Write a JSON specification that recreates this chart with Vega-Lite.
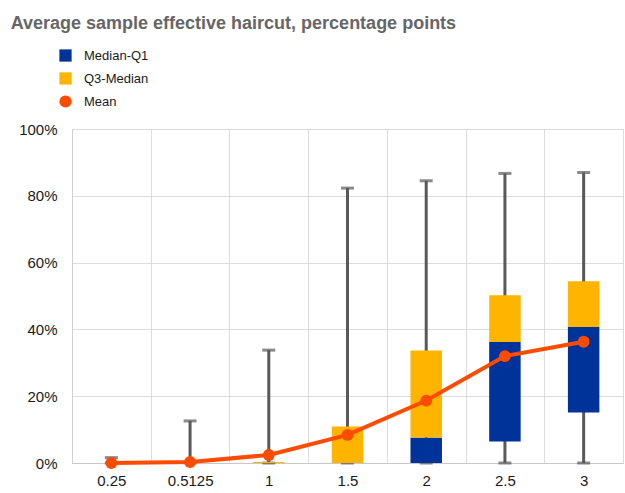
{
  "$schema": "https://vega.github.io/schema/vega-lite/v6.json",
  "width": 551,
  "height": 334,
  "autosize": {"type": "none"},
  "padding": {"left": 72, "top": 129, "right": 2, "bottom": 30},
  "background": "white",
  "title": {
    "text": "Average sample effective haircut, percentage points",
    "anchor": "start",
    "frame": "bounds",
    "font": "Liberation Sans",
    "fontSize": 18,
    "fontWeight": "bold",
    "color": "#666666",
    "dx": -8,
    "dy": -12
  },
  "config": {
    "view": {"stroke": "#d9d9d9", "strokeWidth": 1}
  },
  "datasets": {
    "stats": [
      {"cat": "0.25", "lo": 0, "hi": 0.016},
      {"cat": "0.5125", "lo": 0, "hi": 0.126},
      {"cat": "1", "lo": 0, "hi": 0.338},
      {"cat": "1.5", "lo": 0, "hi": 0.823},
      {"cat": "2", "lo": 0, "hi": 0.845},
      {"cat": "2.5", "lo": 0, "hi": 0.867},
      {"cat": "3", "lo": 0, "hi": 0.870}
    ],
    "boxes": [
      {"cat": "0.25", "series": "Median-Q1", "from": 0, "to": 0},
      {"cat": "0.5125", "series": "Median-Q1", "from": 0, "to": 0},
      {"cat": "1", "series": "Median-Q1", "from": 0, "to": 0},
      {"cat": "1.5", "series": "Median-Q1", "from": 0, "to": 0},
      {"cat": "2", "series": "Median-Q1", "from": 0, "to": 0.076},
      {"cat": "2.5", "series": "Median-Q1", "from": 0.064, "to": 0.362},
      {"cat": "3", "series": "Median-Q1", "from": 0.151, "to": 0.407},
      {"cat": "0.25", "series": "Q3-Median", "from": 0, "to": 0},
      {"cat": "0.5125", "series": "Q3-Median", "from": 0, "to": 0},
      {"cat": "1", "series": "Q3-Median", "from": 0, "to": 0.003},
      {"cat": "1.5", "series": "Q3-Median", "from": 0, "to": 0.109},
      {"cat": "2", "series": "Q3-Median", "from": 0.076, "to": 0.337},
      {"cat": "2.5", "series": "Q3-Median", "from": 0.362, "to": 0.502},
      {"cat": "3", "series": "Q3-Median", "from": 0.407, "to": 0.544}
    ],
    "means": [
      {"cat": "0.25", "series": "Mean", "mean": 0.0},
      {"cat": "0.5125", "series": "Mean", "mean": 0.003},
      {"cat": "1", "series": "Mean", "mean": 0.024},
      {"cat": "1.5", "series": "Mean", "mean": 0.084},
      {"cat": "2", "series": "Mean", "mean": 0.187},
      {"cat": "2.5", "series": "Mean", "mean": 0.32},
      {"cat": "3", "series": "Mean", "mean": 0.363}
    ]
  },
  "encoding": {
    "x": {
      "field": "cat",
      "type": "ordinal",
      "sort": ["0.25", "0.5125", "1", "1.5", "2", "2.5", "3"],
      "scale": {"paddingInner": 0, "paddingOuter": 0},
      "axis": {
        "title": null, "labelAngle": 0, "grid": true, "tickBand": "extent", "ticks": false,
        "gridColor": "#dcdcdc", "domainColor": "#c8c8c8",
        "labelFont": "Liberation Sans", "labelFontSize": 15, "labelColor": "#1a1a1a", "labelPadding": 10
      }
    }
  },
  "layer": [
    {
      "data": {"name": "stats"},
      "mark": {"type": "rule", "color": "#595959", "strokeWidth": 3},
      "encoding": {
        "y": {"field": "lo", "type": "quantitative", "scale": {"domain": [0, 1]},
              "axis": {"title": null, "format": ".0%", "values": [0, 0.2, 0.4, 0.6, 0.8, 1], "ticks": false,
                       "grid": true, "gridColor": "#dcdcdc", "domainColor": "#d0d0d0",
                       "labelFont": "Liberation Sans", "labelFontSize": 15, "labelColor": "#1a1a1a", "labelPadding": 15}},
        "y2": {"field": "hi"}
      }
    },
    {
      "data": {"name": "stats"},
      "mark": {"type": "tick", "color": "#595959", "thickness": 3, "size": 13, "orient": "horizontal"},
      "encoding": {"y": {"field": "hi", "type": "quantitative"}}
    },
    {
      "data": {"name": "stats"},
      "mark": {"type": "tick", "color": "#595959", "thickness": 3, "size": 13, "orient": "horizontal"},
      "encoding": {"y": {"field": "lo", "type": "quantitative"}}
    },
    {
      "data": {"name": "boxes"},
      "mark": {"type": "bar", "width": {"band": 0.4}},
      "encoding": {
        "y": {"field": "from", "type": "quantitative"},
        "y2": {"field": "to"},
        "color": {
          "field": "series", "type": "nominal",
          "scale": {"domain": ["Median-Q1", "Q3-Median", "Mean"], "range": ["#003399", "#FFB400", "#FF4B00"]},
          "legend": {"title": null, "orient": "none", "legendX": -13, "legendY": -80, "symbolSize": 150,
                     "rowPadding": 9, "labelOffset": 12, "symbolStrokeWidth": 0,
                     "labelFont": "Liberation Sans", "labelFontSize": 13, "labelColor": "#1a1a1a"}
        }
      }
    },
    {
      "data": {"name": "means"},
      "mark": {"type": "line", "color": "#FF4B00", "strokeWidth": 4},
      "encoding": {"y": {"field": "mean", "type": "quantitative"}}
    },
    {
      "data": {"name": "means"},
      "mark": {"type": "point", "filled": true, "opacity": 1, "size": 140},
      "encoding": {
        "y": {"field": "mean", "type": "quantitative"},
        "color": {"field": "series", "type": "nominal"},
        "shape": {
          "field": "series", "type": "nominal",
          "scale": {"domain": ["Median-Q1", "Q3-Median", "Mean"], "range": ["square", "square", "circle"]},
          "legend": {"title": null, "orient": "none", "legendX": -13, "legendY": -80, "symbolSize": 150,
                     "rowPadding": 9, "labelOffset": 12, "symbolStrokeWidth": 0,
                     "labelFont": "Liberation Sans", "labelFontSize": 13, "labelColor": "#1a1a1a"}
        }
      }
    }
  ]
}
